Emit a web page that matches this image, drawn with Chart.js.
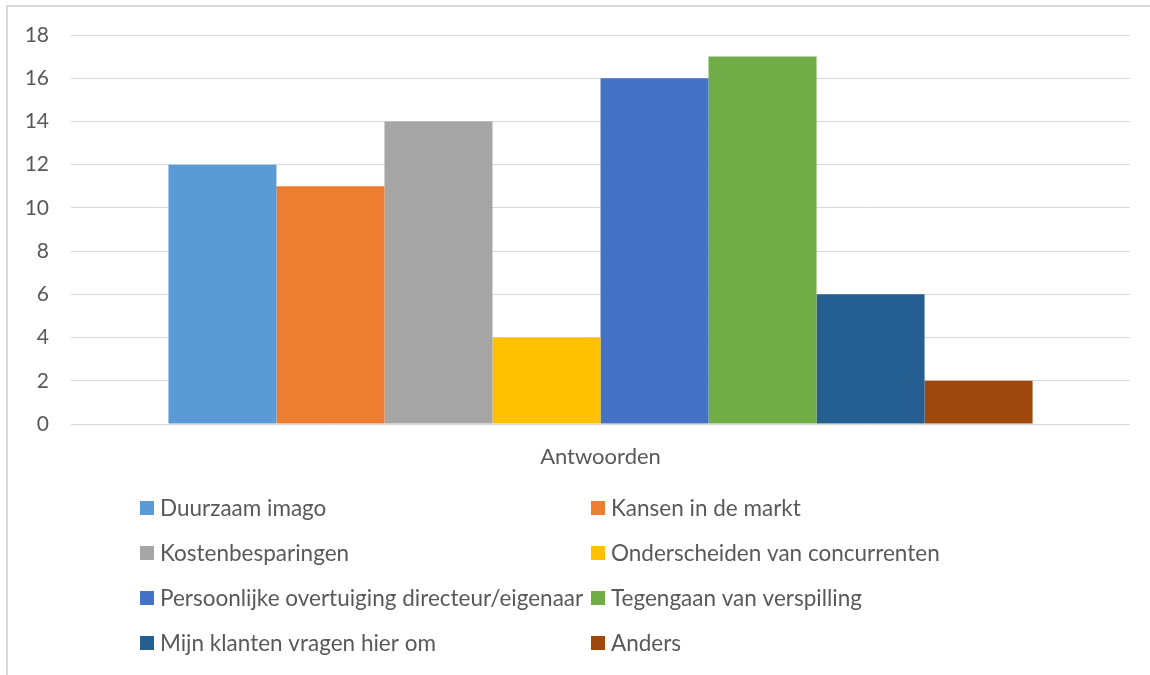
<!DOCTYPE html>
<html>
<head>
<meta charset="utf-8">
<script src="https://cdn.jsdelivr.net/npm/chart.js@4"></script>
<style>
  html, body { margin: 0; padding: 0; background: #fff; }
  #wrap { width: 1150px; height: 675px; }
</style>
</head>
<body>
<div id="wrap"><canvas id="chart" width="1150" height="675"></canvas></div>
<script>
const categories = ['Antwoorden'];
const seriesNames = [
  'Duurzaam imago',
  'Kansen in de markt',
  'Kostenbesparingen',
  'Onderscheiden van concurrenten',
  'Persoonlijke overtuiging directeur/eigenaar',
  'Tegengaan van verspilling',
  'Mijn klanten vragen hier om',
  'Anders'
];
const seriesValues = [12, 11, 14, 4, 16, 17, 6, 2];
const seriesColors = ['#5B9BD5', '#ED7D31', '#A5A5A5', '#FFC000', '#4472C4', '#70AD47', '#255E91', '#9E480E'];

const FONT = 'Lato, "Open Sans", sans-serif';
const TEXT = '#595959';

// Outer frame like the office chart area
const framePlugin = {
  id: 'frame',
  beforeDraw: (chart) => {
    const ctx = chart.ctx;
    ctx.save();
    ctx.strokeStyle = '#d9d9d9';
    ctx.lineWidth = 2;
    ctx.strokeRect(7, 6, 1300, 800);
    ctx.restore();
  }
};

// Two-column legend under the chart
const legendPlugin = {
  id: 'gridLegend',
  afterDraw: (chart) => {
    const ctx = chart.ctx;
    const colX = [140, 591];
    ctx.save();
    ctx.font = '22.5px ' + FONT;
    ctx.textBaseline = 'middle';
    ctx.textAlign = 'left';
    chart.data.datasets.forEach((ds, i) => {
      const x = colX[i % 2];
      const y = 508 + Math.floor(i / 2) * 45;
      ctx.fillStyle = ds.backgroundColor;
      ctx.fillRect(x, y - 7, 14, 14);
      ctx.fillStyle = TEXT;
      ctx.fillText(ds.label, x + 20, y + 1);
    });
    ctx.restore();
  }
};

new Chart(document.getElementById('chart'), {
  type: 'bar',
  data: {
    labels: categories,
    datasets: seriesNames.map((name, i) => ({
      label: name,
      data: [seriesValues[i]],
      backgroundColor: seriesColors[i],
      barPercentage: 1,
      categoryPercentage: 0.816
    }))
  },
  plugins: [framePlugin, legendPlugin],
  options: {
    responsive: false,
    animation: false,
    layout: { padding: { top: 35, right: 20, bottom: 0, left: 0 } },
    plugins: {
      legend: { display: false },
      tooltip: { enabled: false }
    },
    scales: {
      x: {
        grid: { display: false },
        border: { display: false },
        ticks: { color: TEXT, font: { family: FONT, size: 22 }, padding: 12 },
        afterFit: (scale) => { scale.height = 251; }
      },
      y: {
        min: 0,
        max: 18,
        ticks: { stepSize: 2, color: TEXT, font: { family: FONT, size: 21 }, padding: 22 },
        grid: { color: '#d9d9d9', lineWidth: 1, drawTicks: false },
        border: { display: false },
        afterFit: (scale) => { scale.width = 71; }
      }
    }
  }
});
</script>
</body>
</html>
